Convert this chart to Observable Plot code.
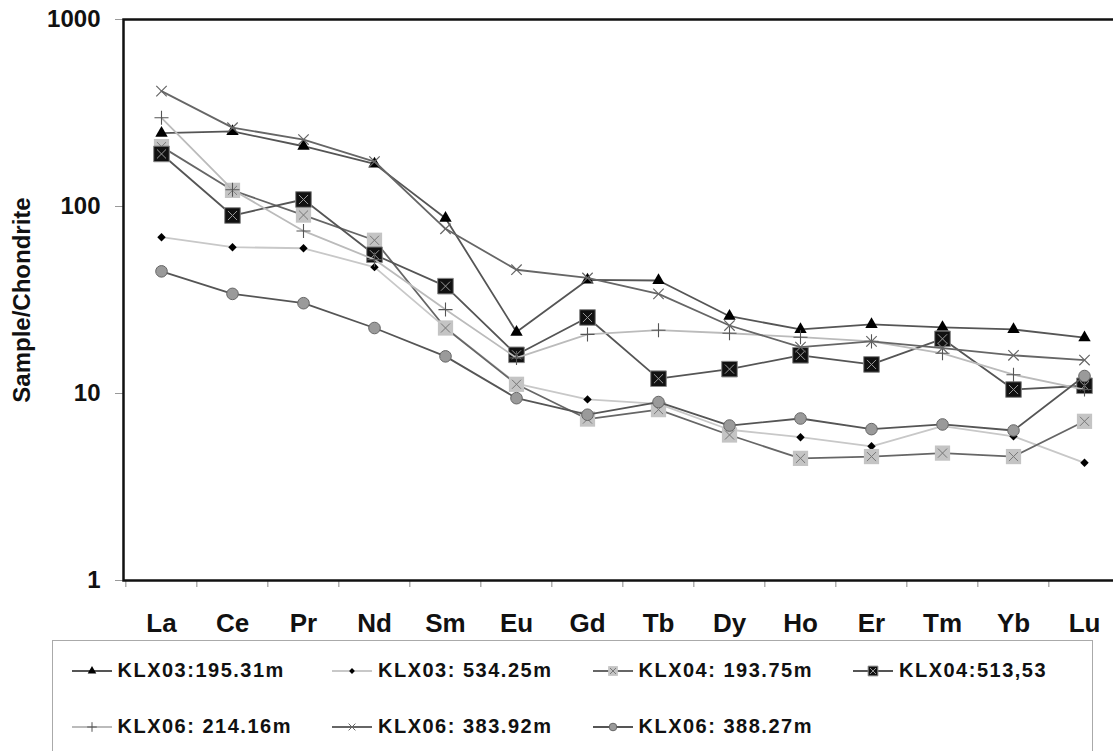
<!DOCTYPE html>
<html><head><meta charset="utf-8">
<script src="https://cdn.jsdelivr.net/npm/d3@7"></script>
<script src="https://cdn.jsdelivr.net/npm/@observablehq/plot@0.6"></script>
<style>
html,body{margin:0;padding:0;background:#fff;overflow:hidden;}
body{width:1113px;height:751px;position:relative;font-family:"Liberation Sans",Arial,sans-serif;}
#chart{position:absolute;left:0;top:0;}
#legend{position:absolute;left:52px;top:640px;width:1041px;height:140px;border:1.5px solid #aaa;box-sizing:border-box;background:#fff;}
.item{position:absolute;height:24px;display:flex;align-items:center;font-weight:bold;font-size:20px;letter-spacing:1.5px;color:#111;white-space:nowrap;}
.item svg{margin-right:6px;flex:none;}
</style></head><body>
<div id="chart"></div><div id="legend"></div>
<script>
// Categories (REE) and chondrite-normalised values per sample
const elements = ["La","Ce","Pr","Nd","Sm","Eu","Gd","Tb","Dy","Ho","Er","Tm","Yb","Lu"];
const klx03_195 = [247,252,210,169,86.6,21.3,40.5,40.2,25.9,22.0,23.4,22.6,22.0,19.9];
const klx03_534 = [68.5,60.6,59.8,47.4,22.5,11.3,9.3,8.8,6.4,5.84,5.22,6.7,5.9,4.26];
const klx04_193 = [209,122,90,66,22.4,11.2,7.3,8.2,6.0,4.5,4.6,4.8,4.6,7.1];
const klx04_513 = [191,89.5,109,55.2,37.5,16.1,25.5,12.0,13.5,16.0,14.3,19.6,10.5,11.0];
const klx06_214 = [298,123,74,52,28.1,15.5,20.7,21.8,21.0,20.0,19.0,16.4,12.6,10.5];
const klx06_383 = [414,264,228,174,76,45.9,41.5,34.1,23.1,17.7,19.0,17.5,16.0,15.1];
const klx06_388 = [45,34.1,30.4,22.4,15.8,9.44,7.7,9.0,6.74,7.35,6.45,6.83,6.34,12.4];
const seriesNames = ["KLX03:195.31m","KLX03: 534.25m","KLX04: 193.75m","KLX04:513,53","KLX06: 214.16m","KLX06: 383.92m","KLX06: 388.27m"];
const yTicks = [1,10,100,1000];
const yLabel = "Sample/Chondrite";

const seriesValues = [klx03_195, klx03_534, klx04_193, klx04_513, klx06_214, klx06_383, klx06_388];
// styles: line colour, list of marker layers (chart and legend)
const styles = [
  {line:"#555", marks:[{symbol:"triangle", r:4.6, fill:"#000", stroke:"none"}], lr:[{symbol:"triangle", r:3.2, fill:"#000", stroke:"none"}]},
  {line:"#c8c8c8", marks:[{symbol:"diamond2", r:3.8, fill:"#000", stroke:"none"}], lr:[{symbol:"diamond2", r:2.6, fill:"#000", stroke:"none"}]},
  {line:"#666", marks:[{symbol:"square", r:8.6, fill:"#c4c4c4", stroke:"none"},{symbol:"times", r:4.2, fill:"none", stroke:"#777", sw:1}],
     lr:[{symbol:"square", r:5.5, fill:"#c4c4c4", stroke:"none"},{symbol:"times", r:2.8, fill:"none", stroke:"#777", sw:1}]},
  {line:"#555", marks:[{symbol:"square", r:8.8, fill:"#111", stroke:"#888", sw:1},{symbol:"times", r:4.2, fill:"none", stroke:"#999", sw:1}],
     lr:[{symbol:"square", r:5.5, fill:"#111", stroke:"#888", sw:1},{symbol:"times", r:2.8, fill:"none", stroke:"#999", sw:1}]},
  {line:"#bbb", marks:[{symbol:"plus", r:4.6, fill:"none", stroke:"#555", sw:1.1}], lr:[{symbol:"plus", r:3.2, fill:"none", stroke:"#555", sw:1}]},
  {line:"#666", marks:[{symbol:"times", r:4.8, fill:"none", stroke:"#666", sw:1.2}], lr:[{symbol:"times", r:3.2, fill:"none", stroke:"#666", sw:1}]},
  {line:"#555", marks:[{symbol:"circle", r:5.8, fill:"#9a9a9a", stroke:"#666", sw:1}], lr:[{symbol:"circle", r:3.8, fill:"#9a9a9a", stroke:"#666", sw:1}]}
];

const step = 998 / elements.length;
const seriesMarks = seriesNames.flatMap((name, k) => {
  const data = elements.map((e, i) => ({element: e, value: seriesValues[k][i], series: name}));
  const st = styles[k];
  return [
    Plot.line(data, {x: "element", y: "value", stroke: st.line, strokeWidth: 1.8}),
    ...st.marks.map(m => Plot.dot(data, {x: "element", y: "value", symbol: m.symbol, r: m.r, fill: m.fill, stroke: m.stroke, strokeWidth: m.sw || 1}))
  ];
});

const chart = Plot.plot({
  width: 1113, height: 640,
  marginLeft: 123, marginRight: -8, marginTop: 19, marginBottom: 60,
  style: {fontFamily: "'Liberation Sans', Arial, sans-serif", color: "#111", background: "transparent"},
  x: {type: "point", domain: elements, padding: 0.5},
  y: {type: "log", domain: [1, 1000]},
  marks: [
    Plot.axisX({tickSize: 0, tickPadding: 33, fontSize: 26, fontWeight: "bold", label: null}),
    Plot.axisX({tickSize: 7, tickFormat: () => "", dx: -step / 2, stroke: "#888", label: null}),
    Plot.axisY({ticks: yTicks, tickFormat: d => String(d), tickSize: 8, tickPadding: 15, fontSize: 24, fontWeight: "bold", stroke: "#999", label: null}),
    Plot.text([yLabel], {frameAnchor: "left", dx: -101, rotate: -90, textAnchor: "middle", text: d => d, fontSize: 24, fontWeight: "bold", fill: "#111"}),
    ...seriesMarks,
    Plot.frame({stroke: "#111", strokeWidth: 2.5})
  ]
});
document.getElementById("chart").appendChild(chart);

// Legend
const symMap = {triangle: d3.symbolTriangle, diamond2: d3.symbolDiamond2, square: d3.symbolSquare, times: d3.symbolTimes, plus: d3.symbolPlus, circle: d3.symbolCircle};
const legend = document.getElementById("legend");
const colX = [18.5, 279, 539.5, 800];
const rowY = [17.5, 73.5];
seriesNames.forEach((name, k) => {
  const item = document.createElement("div");
  item.className = "item";
  item.style.left = colX[k % 4] + "px";
  item.style.top = rowY[Math.floor(k / 4)] + "px";
  const svg = d3.create("svg").attr("width", 40).attr("height", 24);
  svg.append("line").attr("x1", 0).attr("x2", 40).attr("y1", 12).attr("y2", 12).attr("stroke", styles[k].line).attr("stroke-width", 1.8);
  styles[k].lr.forEach(m => {
    svg.append("path").attr("transform", "translate(20,12)")
      .attr("d", d3.symbol(symMap[m.symbol], Math.PI * m.r * m.r)())
      .attr("fill", m.fill).attr("stroke", m.stroke).attr("stroke-width", m.sw || 1);
  });
  item.appendChild(svg.node());
  const span = document.createElement("span");
  span.textContent = name;
  item.appendChild(span);
  legend.appendChild(item);
});
</script>
</body></html>
